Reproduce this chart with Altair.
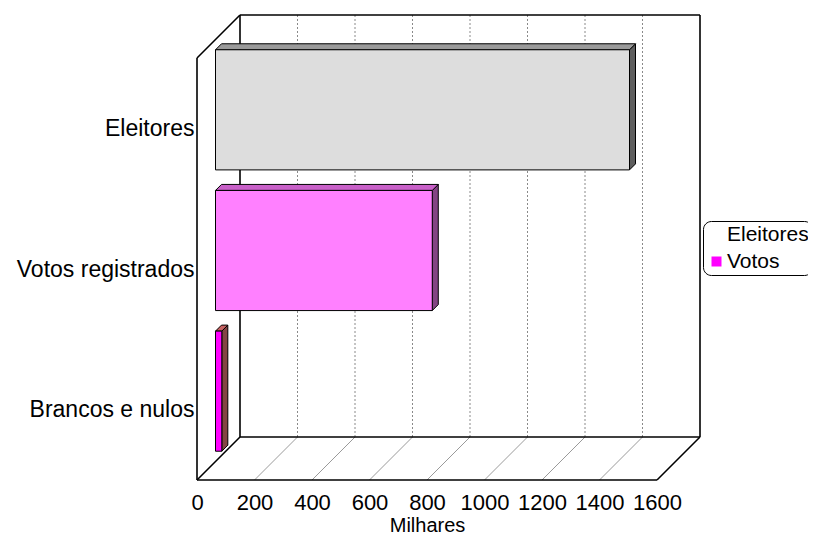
import altair as alt
import pandas as pd

# ---- data (thousands) ----
categories = ["Eleitores", "Votos registrados", "Brancos e nulos"]
values = [1440, 754, 22]
x_ticks = [0, 200, 400, 600, 800, 1000, 1200, 1400, 1600]
legend_labels = ["Eleitores", "Votos"]

# ---- styles ----
front_colors = ["#DDDDDD", "#FF80FF", "#FF00FF"]
top_colors = ["#9A9A9A", "#C860C8", "#C86464"]
side_colors = ["#5E5E5E", "#844484", "#844444"]
legend_colors = ["#FFFFFF", "#FF00FF"]
FONT = "Liberation Sans"

# ---- 3D geometry (pixels) ----
N = len(categories)
XMAX = x_ticks[-1]
FRONT_W = 460          # px of front axis 0..XMAX
FRONT_H = 422          # px of front category axis
DEPTH = 43             # px of oblique depth of the walls
Z0, Z1 = 18.5, 24.5    # depth of front and back face of bars
GAP = 0.073            # half gap per category slot
UX = XMAX / FRONT_W
UY = N / FRONT_H
DX, DY = DEPTH * UX, DEPTH * UY
W, H = FRONT_W + DEPTH, FRONT_H + DEPTH

xs = alt.Scale(domain=[0, XMAX + DX], nice=False, zero=False)
ys = alt.Scale(domain=[0, N + DY], nice=False, zero=False)

# ---- tables built from the arrays ----
front_rows, top_rows, side_rows = [], [], []
for idx, (c, v) in enumerate(zip(categories, values)):
    i = N - 1 - idx
    front_rows.append(dict(cat=c, x0=Z0 * UX, x1=v + Z0 * UX,
                           y0=i + GAP + Z0 * UY, y1=i + 1 - GAP + Z0 * UY))
    for z in (Z0, Z1):
        top_rows.append(dict(cat=c, yy=i + 1 - GAP + z * UY, xa=z * UX, xb=v + z * UX))
        side_rows.append(dict(cat=c, xx=v + z * UX, ya=i + GAP + z * UY, yb=i + 1 - GAP + z * UY))
front_df = pd.DataFrame(front_rows)
top_df = pd.DataFrame(top_rows)
side_df = pd.DataFrame(side_rows)

frame = [
    (DX, DY, DX, N + DY), (DX, N + DY, XMAX + DX, N + DY), (XMAX + DX, DY, XMAX + DX, N + DY),
    (0, N, DX, N + DY), (0, 0, 0, N), (0, 0, DX, DY),
    (DX, DY, XMAX + DX, DY), (0, 0, XMAX, 0), (XMAX, 0, XMAX + DX, DY),
]
frame_df = pd.DataFrame(frame, columns=["a", "b", "a2", "b2"])
back_grid_df = pd.DataFrame([(t + DX, DY, t + DX, N + DY) for t in x_ticks[1:-1]],
                            columns=["a", "b", "a2", "b2"])
floor_grid_df = pd.DataFrame([(t, 0, t + DX, DY) for t in x_ticks[1:-1]],
                             columns=["a", "b", "a2", "b2"])
legend_df = pd.DataFrame({"serie": legend_labels})

rev = list(reversed(categories))
label_expr = " : ".join(
    [f"datum.value < {k + 1} ? '{name}'" for k, name in enumerate(rev[:-1])] + [f"'{rev[-1]}'"])

x_axis = alt.Axis(
    values=x_ticks, format="d", grid=False, domain=False, ticks=False, tickSize=0,
    labelFontSize=22, labelPadding=12, labelFlush=False, labelOverlap=False,
    labelColor="black", labelFont=FONT,
    title="Milhares", titleFontSize=20, titleFontWeight="normal", titleColor="black",
    titleFont=FONT, titlePadding=2, titleX=FRONT_W / 2)
y_axis = alt.Axis(
    values=[k + 0.5 for k in range(N)], labelExpr=label_expr,
    grid=False, domain=False, ticks=False, tickSize=0,
    labelFontSize=23, labelPadding=3, labelColor="black", labelFont=FONT, title=None)


def rules(df, **mk):
    return alt.Chart(df).mark_rule(**mk).encode(
        x=alt.X("a:Q", scale=xs, axis=x_axis), x2="a2:Q",
        y=alt.Y("b:Q", scale=ys, axis=y_axis), y2="b2:Q")


floor_grid = rules(floor_grid_df, color="#9A9A9A", strokeWidth=1)
back_grid = rules(back_grid_df, color="#8A8A8A", strokeWidth=1, strokeDash=[2, 2])
walls = rules(frame_df, color="black", strokeWidth=1.6)

top_face = alt.Chart(top_df).mark_area(orient="horizontal", stroke="black", strokeWidth=1,
                                       opacity=1).encode(
    y=alt.Y("yy:Q", scale=ys, axis=y_axis),
    x=alt.X("xa:Q", scale=xs, axis=x_axis, stack=None), x2="xb:Q",
    color=alt.Color("cat:N", scale=alt.Scale(domain=categories, range=top_colors), legend=None),
)
side_face = alt.Chart(side_df).mark_area(orient="vertical", stroke="black", strokeWidth=1,
                                         opacity=1).encode(
    x=alt.X("xx:Q", scale=xs, axis=x_axis),
    y=alt.Y("ya:Q", scale=ys, axis=y_axis, stack=None), y2="yb:Q",
    color=alt.Color("cat:N", scale=alt.Scale(domain=categories, range=side_colors), legend=None),
)
front_face = alt.Chart(front_df).mark_rect(stroke="black", strokeWidth=1).encode(
    x=alt.X("x0:Q", scale=xs, axis=x_axis), x2="x1:Q",
    y=alt.Y("y0:Q", scale=ys, axis=y_axis), y2="y1:Q",
    color=alt.Color("cat:N", scale=alt.Scale(domain=categories, range=front_colors), legend=None),
)

legend_layer = alt.Chart(legend_df).mark_square(opacity=0).encode(
    x=alt.value(0), y=alt.value(0),
    color=alt.Color("serie:N", scale=alt.Scale(domain=legend_labels, range=legend_colors),
                    legend=alt.Legend(title=None, orient="none", legendX=506, legendY=206,
                                      strokeColor="black", cornerRadius=8, padding=3,
                                      labelFontSize=21, labelFont=FONT, labelColor="black",
                                      symbolType="square", symbolSize=100, symbolOpacity=1,
                                      symbolStrokeWidth=0, rowPadding=5, labelOffset=0)),
)

chart = alt.layer(floor_grid, back_grid, walls, side_face, top_face, front_face, legend_layer).resolve_scale(
    color="independent"
).properties(
    width=W, height=H,
    autosize=alt.AutoSizeParams(type="none"),
    padding={"left": 189, "top": 7, "right": 108, "bottom": 55},
    background="white",
).configure(font=FONT, view=alt.ViewConfig(stroke=None))

chart.save("out.html", embed_options={"renderer": "svg", "actions": False})
